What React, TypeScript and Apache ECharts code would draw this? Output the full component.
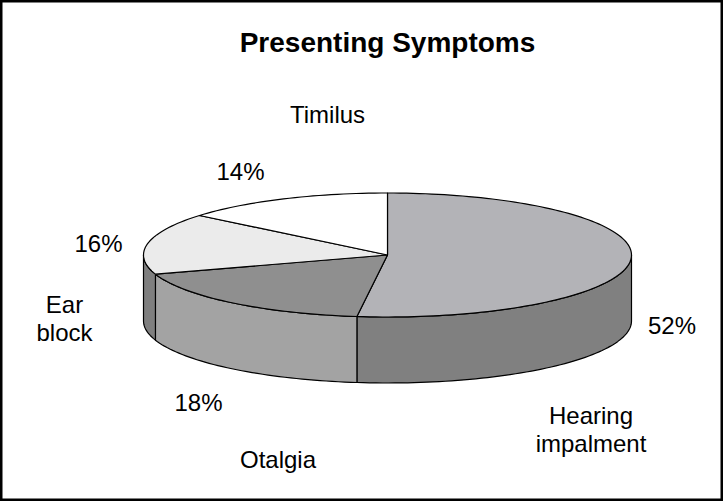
import React, { useEffect, useRef } from "react";
import * as echarts from "echarts";

const categories = ["Hearing impalment", "Otalgia", "Ear block", "Timilus"];
const values = [52, 18, 16, 14];
const percentLabels = ["52%", "18%", "16%", "14%"];
const topColors = ["#b3b3b7", "#8f8f8f", "#ebebeb", "#ffffff"];
const sideColors = ["#808080", "#a3a3a3", "#7f7f7f", "#ffffff"];

const FONT = "'Liberation Sans', Arial, Helvetica, sans-serif";

export default function App() {
  const ref = useRef<HTMLDivElement>(null);
  useEffect(() => {
    document.body.style.margin = "0";
    const chart = echarts.init(ref.current!, undefined, { renderer: "svg" });
    const total = values.reduce((a, b) => a + b, 0);
    const cx = 387.5, cy = 255, rx = 244, ry = 62, depth = 66;
    const pt = (a: number, dy: number) => [cx + rx * Math.sin(a), cy - ry * Math.cos(a) + dy];
    const arc = (s: number, e: number, dy: number) => {
      const n = Math.max(4, Math.ceil(((e - s) / (Math.PI * 2)) * 240));
      const out: number[][] = [];
      for (let k = 0; k <= n; k++) out.push(pt(s + ((e - s) * k) / n, dy));
      return out;
    };
    const label = (text: string, x: number, y: number, size = 24, bold = false) => ({
      type: "text",
      x,
      y,
      z: 10,
      style: {
        text,
        fill: "#000",
        font: `${bold ? "bold " : ""}${size}px ${FONT}`,
        align: "center",
        verticalAlign: "middle",
        lineHeight: 28,
      },
    });
    chart.setOption({
      animation: false,
      backgroundColor: "#ffffff",
      series: [
        {
          type: "custom",
          coordinateSystem: "none",
          data: values.map((v, i) => ({ value: v, name: categories[i] })),
          renderItem: (params: any, api: any) => {
            const i = params.dataIndex;
            let start = 0;
            for (let k = 0; k < i; k++) start += values[k];
            const a1 = (start / total) * Math.PI * 2;
            const a2 = ((start + api.value(0)) / total) * Math.PI * 2;
            const children: any[] = [];
            const s = Math.max(a1, Math.PI / 2);
            const e = Math.min(a2, (Math.PI * 3) / 2);
            if (s < e) {
              const pts = arc(s, e, 0).concat(arc(s, e, depth).reverse());
              children.push({
                type: "polygon",
                shape: { points: pts },
                style: { fill: sideColors[i], stroke: "#000", lineWidth: 1.2, lineJoin: "round" },
              });
            }
            const topPts = [[cx, cy]].concat(arc(a1, a2, 0));
            children.push({
              type: "polygon",
              shape: { points: topPts },
              style: { fill: topColors[i], stroke: "#000", lineWidth: 1.2, lineJoin: "round" },
            });
            return { type: "group", children };
          },
        },
      ],
      graphic: [
        {
          type: "rect",
          shape: { x: 1.25, y: 1.25, width: 720.5, height: 498.5 },
          style: { fill: "none", stroke: "#000", lineWidth: 2.5 },
          z: 20,
        },
        label("Presenting Symptoms", 387.5, 42, 28, true),
        label(categories[3], 327.5, 114),
        label(percentLabels[3], 240.5, 171),
        label(percentLabels[2], 98.5, 243),
        label("Ear\nblock", 64.5, 318),
        label(percentLabels[0], 672, 325),
        label("Hearing\nimpalment", 591, 429),
        label(percentLabels[1], 198.5, 402),
        label(categories[1], 278, 459),
      ],
    });
    return () => chart.dispose();
  }, []);
  return <div ref={ref} style={{ position: "fixed", left: 0, top: 0, width: 723, height: 501 }} />;
}
